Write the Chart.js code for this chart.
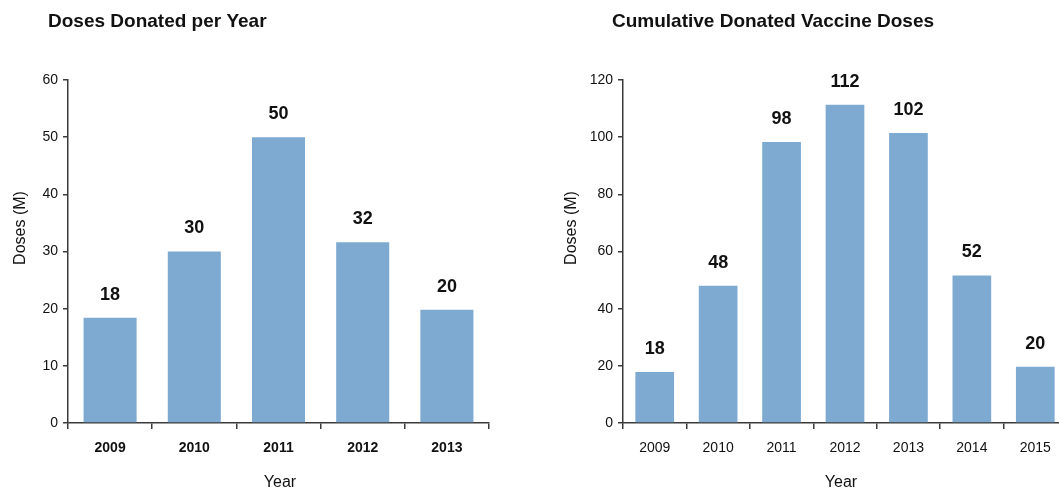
<!DOCTYPE html>
<html>
<head>
<meta charset="utf-8">
<script src="https://cdn.jsdelivr.net/npm/chart.js@4.4.1/dist/chart.umd.min.js"></script>
<style>
  html, body { margin: 0; padding: 0; background: #fff; overflow: hidden; }
  #wrap { position: relative; width: 1059px; height: 491px; overflow: hidden; }
  .box { position: absolute; top: 0; height: 491px; }
  #leftBox { left: 0; width: 520px; }
  #rightBox { left: 540px; width: 540px; }
</style>
</head>
<body>
<div id="wrap">
  <div class="box" id="leftBox"><canvas id="perYear"></canvas></div>
  <div class="box" id="rightBox"><canvas id="cumulative"></canvas></div>
</div>
<script>
// 연도별 기부 백신 (M doses)
const yearsPerYear = ['2009', '2010', '2011', '2012', '2013'];
const dosesPerYear = [18.4, 30, 50, 31.6, 19.8];
const labelsPerYear = ['18', '30', '50', '32', '20'];
const ticksPerYear = [0, 10, 20, 30, 40, 50, 60];

// 누적 기부 백신
const yearsCumulative = ['2009', '2010', '2011', '2012', '2013', '2014', '2015'];
const dosesCumulative = [17.8, 48, 98.3, 111.3, 101.5, 51.6, 19.7];
const labelsCumulative = ['18', '48', '98', '112', '102', '52', '20'];
const ticksCumulative = [0, 20, 40, 60, 80, 100, 120];

const FONT = "'Liberation Sans', Arial, sans-serif";
const BAR_COLOR = '#7eaad2';
const AXIS_COLOR = '#3a3a3a';
const TEXT_COLOR = '#111';

/**
 * 고정 위치 텍스트 (제목, 축 제목)
 */
const freeText = {
  id: 'freeText',
  afterDraw(chart, args, opts) {
    const ctx = chart.ctx;
    (opts.items || []).forEach(t => {
      ctx.save();
      ctx.font = t.font;
      ctx.fillStyle = TEXT_COLOR;
      ctx.textAlign = t.align || 'center';
      ctx.textBaseline = 'middle';
      ctx.translate(t.x, t.y);
      if (t.rotate) ctx.rotate(-Math.PI / 2);
      ctx.fillText(t.text, 0, 0);
      ctx.restore();
    });
  }
};

/**
 * 막대 위 값 표시
 */
const barLabels = {
  id: 'barLabels',
  afterDatasetsDraw(chart, args, opts) {
    const ctx = chart.ctx;
    const meta = chart.getDatasetMeta(0);
    ctx.save();
    ctx.font = 'bold 18px ' + FONT;
    ctx.fillStyle = TEXT_COLOR;
    ctx.textAlign = 'center';
    ctx.textBaseline = 'middle';
    meta.data.forEach((bar, i) => {
      ctx.fillText(opts.texts[i], bar.x, bar.y - 23);
    });
    ctx.restore();
  }
};

function makeChart(id, cfg) {
  const ctx = document.getElementById(id);
  return new Chart(ctx, {
    type: 'bar',
    data: {
      labels: cfg.labels,
      datasets: [{
        data: cfg.values,
        backgroundColor: BAR_COLOR,
        borderWidth: 0,
        categoryPercentage: 1,
        barPercentage: cfg.barPct
      }]
    },
    options: {
      responsive: true,
      maintainAspectRatio: false,
      animation: false,
      layout: { padding: { top: 80, right: cfg.padRight, bottom: 0, left: 0 } },
      plugins: {
        legend: { display: false },
        title: { display: false },
        tooltip: { enabled: false },
        barLabels: { texts: cfg.barTexts },
        freeText: { items: cfg.texts }
      },
      scales: {
        x: {
          grid: { display: true, drawOnChartArea: false, offset: true, tickLength: 6, color: AXIS_COLOR, lineWidth: 1.5 },
          border: { display: true, color: AXIS_COLOR, width: 1.5 },
          ticks: {
            color: TEXT_COLOR,
            padding: 11,
            font: { family: FONT, size: 14, weight: cfg.xBold ? 'bold' : 'normal' }
          },
          afterFit(scale) { scale.height = 68; }
        },
        y: {
          min: 0,
          max: cfg.ticks[cfg.ticks.length - 1],
          afterBuildTicks(scale) { scale.ticks = cfg.ticks.map(v => ({ value: v })); },
          grid: { display: true, drawOnChartArea: false, tickLength: 5, color: AXIS_COLOR, lineWidth: 1.5 },
          border: { display: true, color: AXIS_COLOR, width: 1.5 },
          ticks: {
            color: TEXT_COLOR,
            padding: 5,
            font: { family: FONT, size: 14 }
          },
          afterFit(scale) { scale.width = cfg.yWidth; }
        }
      }
    },
    plugins: [barLabels, freeText]
  });
}

makeChart('perYear', {
  labels: yearsPerYear,
  values: dosesPerYear,
  barTexts: labelsPerYear,
  ticks: ticksPerYear,
  barPct: 0.63,
  padRight: 31,
  yWidth: 68,
  xBold: true,
  texts: [
    { text: 'Doses Donated per Year', x: 48, y: 22, align: 'left', font: 'bold 19px ' + FONT },
    { text: 'Doses (M)', x: 21, y: 228, rotate: true, font: '16px ' + FONT },
    { text: 'Year', x: 280, y: 483, font: '16px ' + FONT }
  ]
});

makeChart('cumulative', {
  labels: yearsCumulative,
  values: dosesCumulative,
  barTexts: labelsCumulative,
  ticks: ticksCumulative,
  barPct: 0.61,
  padRight: 13,
  yWidth: 83,
  xBold: false,
  texts: [
    { text: 'Cumulative Donated Vaccine Doses', x: 72, y: 22, align: 'left', font: 'bold 19px ' + FONT },
    { text: 'Doses (M)', x: 32, y: 228, rotate: true, font: '16px ' + FONT },
    { text: 'Year', x: 301, y: 483, font: '16px ' + FONT }
  ]
});
</script>
</body>
</html>
